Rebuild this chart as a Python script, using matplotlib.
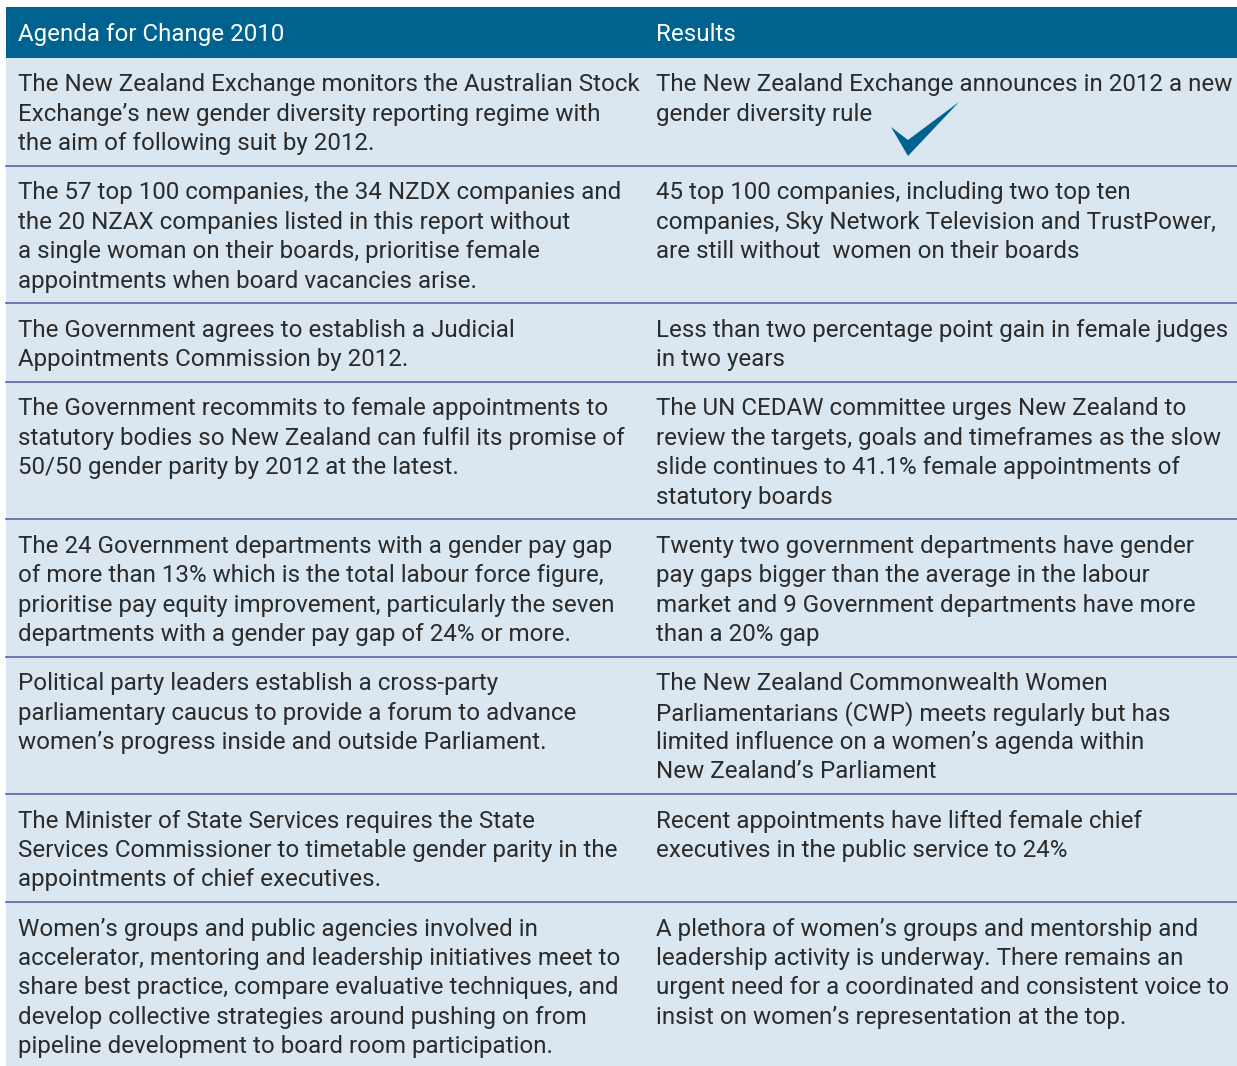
import matplotlib.pyplot as plt
from matplotlib.patches import Rectangle, Polygon

headers = ["Agenda for Change 2010", "Results"]

agenda = [
    ["The New Zealand Exchange monitors the Australian Stock",
     "Exchange\u2019s new gender diversity reporting regime with",
     "the aim of following suit by 2012."],
    ["The 57 top 100 companies, the 34 NZDX companies and",
     "the 20 NZAX companies listed in this report without",
     "a single woman on their boards, prioritise female",
     "appointments when board vacancies arise."],
    ["The Government agrees to establish a Judicial",
     "Appointments Commission by 2012."],
    ["The Government recommits to female appointments to",
     "statutory bodies so New Zealand can fulfil its promise of",
     "50/50 gender parity by 2012 at the latest."],
    ["The 24 Government departments with a gender pay gap",
     "of more than 13% which is the total labour force figure,",
     "prioritise pay equity improvement, particularly the seven",
     "departments with a gender pay gap of 24% or more."],
    ["Political party leaders establish a cross-party",
     "parliamentary caucus to provide a forum to advance",
     "women\u2019s progress inside and outside Parliament."],
    ["The Minister of State Services requires the State",
     "Services Commissioner to timetable gender parity in the",
     "appointments of chief executives."],
    ["Women\u2019s groups and public agencies involved in",
     "accelerator, mentoring and leadership initiatives meet to",
     "share best practice, compare evaluative techniques, and",
     "develop collective strategies around pushing on from",
     "pipeline development to board room participation."],
]

results = [
    ["The New Zealand Exchange announces in 2012 a new",
     "gender diversity rule"],
    ["45 top 100 companies, including two top ten",
     "companies, Sky Network Television and TrustPower,",
     "are still without  women on their boards"],
    ["Less than two percentage point gain in female judges",
     "in two years"],
    ["The UN CEDAW committee urges New Zealand to",
     "review the targets, goals and timeframes as the slow",
     "slide continues to 41.1% female appointments of",
     "statutory boards"],
    ["Twenty two government departments have gender",
     "pay gaps bigger than the average in the labour",
     "market and 9 Government departments have more",
     "than a 20% gap"],
    ["The New Zealand Commonwealth Women",
     "Parliamentarians (CWP) meets regularly but has",
     "limited influence on a women\u2019s agenda within",
     "New Zealand\u2019s Parliament"],
    ["Recent appointments have lifted female chief",
     "executives in the public service to 24%"],
    ["A plethora of women\u2019s groups and mentorship and",
     "leadership activity is underway. There remains an",
     "urgent need for a coordinated and consistent voice to",
     "insist on women\u2019s representation at the top."],
]

HEAD = "#00628f"
BODY = "#dae6f0"
RULE = "#5b64a8"
INK = "#2b2b2b"
FONT = "Roboto"
SIZE = 17.4

W, H = 1237, 1066
fig = plt.figure(figsize=(W / 100, H / 100), dpi=100)
ax = fig.add_axes([0, 0, 1, 1])
ax.set_xlim(0, W)
ax.set_ylim(H, 0)
ax.axis("off")

left, right = 6, W
col_x = [18, 656]
top = 7
head_h = 51
line_h = 29.4

ax.add_patch(Rectangle((left, top), right - left, head_h, color=HEAD, lw=0))
for x, h in zip(col_x, headers):
    ax.text(x, top + head_h / 2 + 2, h, color="white", fontsize=SIZE,
            family=FONT, va="center", ha="left")

y = top + head_h
ax.add_patch(Rectangle((left, y), right - left, H - y, color=BODY, lw=0))
for i, (a, r) in enumerate(zip(agenda, results)):
    n = max(len(a), len(r))
    for x, lines in zip(col_x, (a, r)):
        for k, line in enumerate(lines):
            ax.text(x, y + 27 + k * line_h, line, color=INK, fontsize=SIZE,
                    family=FONT, va="center", ha="left")
    y += n * line_h + 19.8
    if i < len(agenda) - 1:
        ax.plot([left, right], [y, y], color=RULE, lw=1.2)

# tick mark next to the first result
check = [(891, 127), (908, 140), (959, 102), (908, 156)]
ax.add_patch(Polygon(check, closed=True, color=HEAD, lw=0))

fig.savefig("out.png", dpi=100)
